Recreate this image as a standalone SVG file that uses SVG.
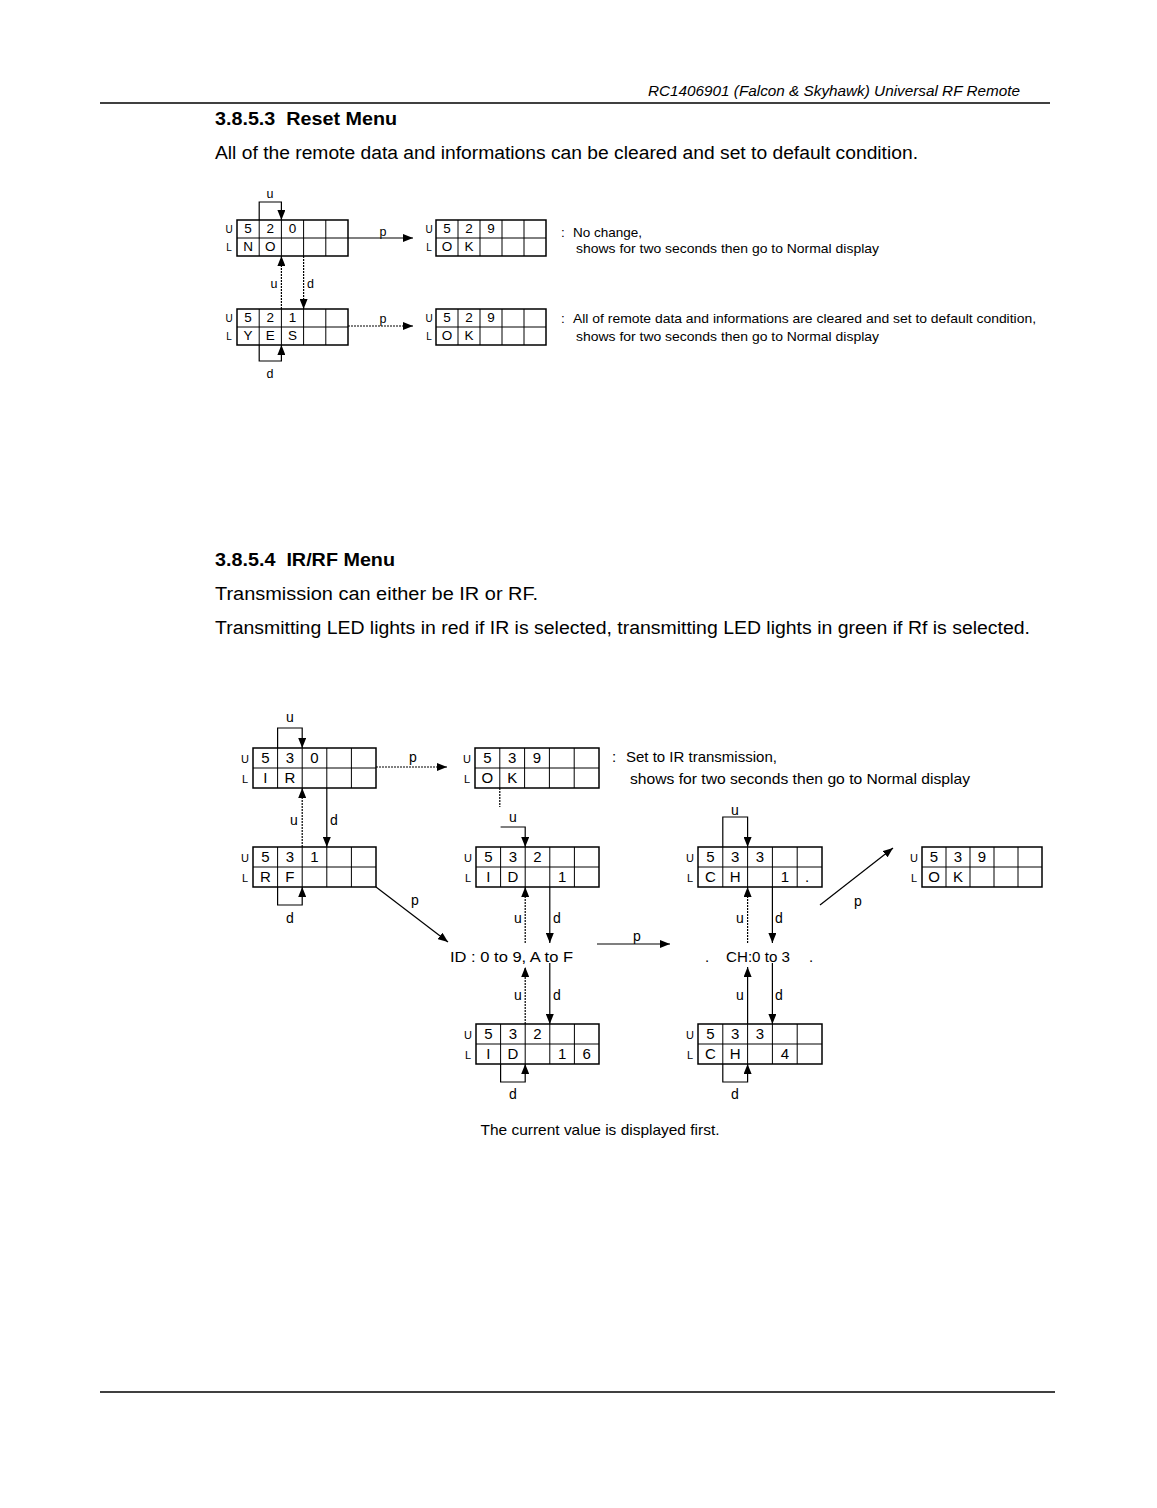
<svg xmlns="http://www.w3.org/2000/svg" width="1157" height="1508" viewBox="0 0 1157 1508">
<style>
text{font-family:"Liberation Sans",Arial,sans-serif;fill:#000}
.box{fill:none;stroke:#000;stroke-width:1.5}
.grid{fill:none;stroke:#000;stroke-width:1}
.rc{font-size:13.5px;text-anchor:middle}
.ic{font-size:15px;text-anchor:middle}
.ul{font-size:10px;text-anchor:middle}
.iul{font-size:11px;text-anchor:middle}
.conn{fill:none;stroke:#000;stroke-width:1.2}
.arr{marker-end:url(#ah)}
.dot{stroke-dasharray:2 1}
.rl{font-size:12.5px}
.il{font-size:14px}
.mid{text-anchor:middle}
.note{font-size:13.5px}
.inote{font-size:15px}
.h{font-size:19px;font-weight:bold}
.body{font-size:18px}
</style>
<defs>
<marker id="ah" viewBox="0 0 10 8" refX="10" refY="4" markerWidth="10" markerHeight="8" orient="auto" markerUnits="userSpaceOnUse"><path d="M0,0 L10,4 L0,8 z" fill="#000"/></marker>
</defs>

<g id="page-text">
<text x="1020" y="96" font-size="14" font-style="italic" text-anchor="end" textLength="372" lengthAdjust="spacingAndGlyphs">RC1406901 (Falcon &amp; Skyhawk) Universal RF Remote</text>
<line x1="100" y1="103" x2="1050" y2="103" stroke="#000" stroke-width="1.5"/>
<text class="h" x="215" y="125" textLength="182" lengthAdjust="spacingAndGlyphs" xml:space="preserve">3.8.5.3  Reset Menu</text>
<text class="body" x="215" y="159" textLength="703" lengthAdjust="spacingAndGlyphs">All of the remote data and informations can be cleared and set to default condition.</text>
<text class="h" x="215" y="566" textLength="180" lengthAdjust="spacingAndGlyphs" xml:space="preserve">3.8.5.4  IR/RF Menu</text>
<text class="body" x="215" y="600" textLength="323" lengthAdjust="spacingAndGlyphs">Transmission can either be IR or RF.</text>
<text class="body" x="215" y="634" textLength="815" lengthAdjust="spacingAndGlyphs">Transmitting LED lights in red if IR is selected, transmitting LED lights in green if Rf is selected.</text>
<line x1="100" y1="1392" x2="1055" y2="1392" stroke="#000" stroke-width="1.5"/>
</g>

<!-- Reset menu nodes -->
<g id="r520">
<rect class="box" x="237" y="220" width="111" height="36"/>
<path class="grid" d="M237,238 H348 M259.2,220 V256 M281.4,220 V256 M303.6,220 V256 M325.8,220 V256"/>
<text class="ul" x="229" y="233">U</text><text class="ul" x="229" y="251">L</text>
<text class="rc" x="248.1" y="233">5</text><text class="rc" x="270.3" y="233">2</text><text class="rc" x="292.5" y="233">0</text>
<text class="rc" x="248.1" y="251">N</text><text class="rc" x="270.3" y="251">O</text>
</g>
<g id="r529a">
<rect class="box" x="436" y="220" width="110" height="36"/>
<path class="grid" d="M436,238 H546 M458,220 V256 M480,220 V256 M502,220 V256 M524,220 V256"/>
<text class="ul" x="429" y="233">U</text><text class="ul" x="429" y="251">L</text>
<text class="rc" x="447" y="233">5</text><text class="rc" x="469" y="233">2</text><text class="rc" x="491" y="233">9</text>
<text class="rc" x="447" y="251">O</text><text class="rc" x="469" y="251">K</text>
</g>
<g id="r521">
<rect class="box" x="237" y="309" width="111" height="36"/>
<path class="grid" d="M237,327 H348 M259.2,309 V345 M281.4,309 V345 M303.6,309 V345 M325.8,309 V345"/>
<text class="ul" x="229" y="322">U</text><text class="ul" x="229" y="340">L</text>
<text class="rc" x="248.1" y="322">5</text><text class="rc" x="270.3" y="322">2</text><text class="rc" x="292.5" y="322">1</text>
<text class="rc" x="248.1" y="340">Y</text><text class="rc" x="270.3" y="340">E</text><text class="rc" x="292.5" y="340">S</text>
</g>
<g id="r529b">
<rect class="box" x="436" y="309" width="110" height="36"/>
<path class="grid" d="M436,327 H546 M458,309 V345 M480,309 V345 M502,309 V345 M524,309 V345"/>
<text class="ul" x="429" y="322">U</text><text class="ul" x="429" y="340">L</text>
<text class="rc" x="447" y="322">5</text><text class="rc" x="469" y="322">2</text><text class="rc" x="491" y="322">9</text>
<text class="rc" x="447" y="340">O</text><text class="rc" x="469" y="340">K</text>
</g>
<g id="r-notes">
<text class="note" x="561" y="237">:</text>
<text class="note" x="573" y="237">No change,</text>
<text class="note" x="576" y="253" textLength="303" lengthAdjust="spacingAndGlyphs">shows for two seconds then go to Normal display</text>
<text class="note" x="561" y="323">:</text>
<text class="note" x="573" y="323" textLength="463" lengthAdjust="spacingAndGlyphs">All of remote data and informations are cleared and set to default condition,</text>
<text class="note" x="576" y="341" textLength="303" lengthAdjust="spacingAndGlyphs">shows for two seconds then go to Normal display</text>
</g>

<!-- IR/RF nodes -->
<g id="i530">
<rect class="box" x="253" y="748" width="123" height="40"/>
<path class="grid" d="M253,768 H376 M277.6,748 V788 M302.2,748 V788 M326.8,748 V788 M351.4,748 V788"/>
<text class="iul" x="245" y="763">U</text><text class="iul" x="245" y="783">L</text>
<text class="ic" x="265.3" y="763">5</text><text class="ic" x="289.9" y="763">3</text><text class="ic" x="314.5" y="763">0</text>
<text class="ic" x="265.3" y="783">I</text><text class="ic" x="289.9" y="783">R</text>
</g>
<g id="i539a">
<rect class="box" x="475" y="748" width="124" height="40"/>
<path class="grid" d="M475,768 H599 M499.8,748 V788 M524.6,748 V788 M549.4,748 V788 M574.2,748 V788"/>
<text class="iul" x="467" y="763">U</text><text class="iul" x="467" y="783">L</text>
<text class="ic" x="487.4" y="763">5</text><text class="ic" x="512.2" y="763">3</text><text class="ic" x="537" y="763">9</text>
<text class="ic" x="487.4" y="783">O</text><text class="ic" x="512.2" y="783">K</text>
</g>
<g id="i-note">
<text class="inote" x="612" y="762">:</text>
<text class="inote" x="626" y="762">Set to IR transmission,</text>
<text class="inote" x="630" y="784" textLength="340" lengthAdjust="spacingAndGlyphs">shows for two seconds then go to Normal display</text>
</g>
<g id="i531">
<rect class="box" x="253" y="847" width="123" height="40"/>
<path class="grid" d="M253,867 H376 M277.6,847 V887 M302.2,847 V887 M326.8,847 V887 M351.4,847 V887"/>
<text class="iul" x="245" y="862">U</text><text class="iul" x="245" y="882">L</text>
<text class="ic" x="265.3" y="862">5</text><text class="ic" x="289.9" y="862">3</text><text class="ic" x="314.5" y="862">1</text>
<text class="ic" x="265.3" y="882">R</text><text class="ic" x="289.9" y="882">F</text>
</g>
<g id="i532a">
<rect class="box" x="476" y="847" width="123" height="40"/>
<path class="grid" d="M476,867 H599 M500.6,847 V887 M525.2,847 V887 M549.8,847 V887 M574.4,847 V887"/>
<text class="iul" x="468" y="862">U</text><text class="iul" x="468" y="882">L</text>
<text class="ic" x="488.3" y="862">5</text><text class="ic" x="512.9" y="862">3</text><text class="ic" x="537.5" y="862">2</text>
<text class="ic" x="488.3" y="882">I</text><text class="ic" x="512.9" y="882">D</text><text class="ic" x="562.1" y="882">1</text>
</g>
<g id="i533a">
<rect class="box" x="698" y="847" width="124" height="40"/>
<path class="grid" d="M698,867 H822 M722.8,847 V887 M747.6,847 V887 M772.4,847 V887 M797.2,847 V887"/>
<text class="iul" x="690" y="862">U</text><text class="iul" x="690" y="882">L</text>
<text class="ic" x="710.4" y="862">5</text><text class="ic" x="735.2" y="862">3</text><text class="ic" x="760" y="862">3</text>
<text class="ic" x="710.4" y="882">C</text><text class="ic" x="735.2" y="882">H</text><text class="ic" x="784.8" y="882">1</text><text class="ic" x="807" y="882">.</text>
</g>
<g id="i539b">
<rect class="box" x="922" y="847" width="120" height="40"/>
<path class="grid" d="M922,867 H1042 M946,847 V887 M970,847 V887 M994,847 V887 M1018,847 V887"/>
<text class="iul" x="914" y="862">U</text><text class="iul" x="914" y="882">L</text>
<text class="ic" x="934" y="862">5</text><text class="ic" x="958" y="862">3</text><text class="ic" x="982" y="862">9</text>
<text class="ic" x="934" y="882">O</text><text class="ic" x="958" y="882">K</text>
</g>
<g id="id-range">
<text class="ic" x="450" y="962" style="text-anchor:start" textLength="123" lengthAdjust="spacingAndGlyphs">ID : 0 to 9, A to F</text>
</g>
<g id="ch-range">
<text class="ic" x="707" y="962">.</text>
<text class="ic" x="726" y="962" style="text-anchor:start" textLength="64" lengthAdjust="spacingAndGlyphs">CH:0 to 3</text>
<text class="ic" x="811" y="962">.</text>
</g>
<g id="i532b">
<rect class="box" x="476" y="1024" width="123" height="40"/>
<path class="grid" d="M476,1044 H599 M500.6,1024 V1064 M525.2,1024 V1064 M549.8,1024 V1064 M574.4,1024 V1064"/>
<text class="iul" x="468" y="1039">U</text><text class="iul" x="468" y="1059">L</text>
<text class="ic" x="488.3" y="1039">5</text><text class="ic" x="512.9" y="1039">3</text><text class="ic" x="537.5" y="1039">2</text>
<text class="ic" x="488.3" y="1059">I</text><text class="ic" x="512.9" y="1059">D</text><text class="ic" x="562.1" y="1059">1</text><text class="ic" x="586.7" y="1059">6</text>
</g>
<g id="i533b">
<rect class="box" x="698" y="1024" width="124" height="40"/>
<path class="grid" d="M698,1044 H822 M722.8,1024 V1064 M747.6,1024 V1064 M772.4,1024 V1064 M797.2,1024 V1064"/>
<text class="iul" x="690" y="1039">U</text><text class="iul" x="690" y="1059">L</text>
<text class="ic" x="710.4" y="1039">5</text><text class="ic" x="735.2" y="1039">3</text><text class="ic" x="760" y="1039">3</text>
<text class="ic" x="710.4" y="1059">C</text><text class="ic" x="735.2" y="1059">H</text><text class="ic" x="784.8" y="1059">4</text>
</g>
<g id="caption">
<text class="inote mid" x="600" y="1135" textLength="239" lengthAdjust="spacingAndGlyphs">The current value is displayed first.</text>
</g>

<g id="connectors">
<!-- reset -->
<path class="conn arr" d="M259.2,220 V202 H281.4 V220"/>
<path class="conn arr" d="M348,238 H413"/>
<path class="conn arr dot" d="M281.4,309 V256"/>
<path class="conn arr dot" d="M303.6,256 V309"/>
<path class="conn arr dot" d="M348,326 H413"/>
<path class="conn arr" d="M259.2,345 V361 H281.4 V345"/>
<!-- IR/RF -->
<path class="conn arr" d="M277.6,748 V728 H302.2 V748"/>
<path class="conn arr dot" d="M376,767 H447"/>
<path class="conn arr dot" d="M302.2,847 V788"/>
<path class="conn arr" d="M326.8,788 V847"/>
<path class="conn arr" d="M277.6,887 V905 H302.2 V887"/>
<path class="conn arr" d="M376,887 L448,942"/>
<path class="conn dot" d="M499.8,788 V807"/>
<path class="conn arr" d="M500.6,827 H525.2 V847"/>
<path class="conn arr dot" d="M525.2,943 V887"/>
<path class="conn arr" d="M549.8,887 V943"/>
<path class="conn arr dot" d="M525.2,1024 V967"/>
<path class="conn arr" d="M549.8,963 V1024"/>
<path class="conn arr" d="M500.6,1064 V1082 H525.2 V1064"/>
<path class="conn arr" d="M597,944 H670"/>
<path class="conn arr" d="M722.8,847 V817 H747.6 V847"/>
<path class="conn arr dot" d="M747.6,943 V887"/>
<path class="conn arr" d="M772.4,887 V943"/>
<path class="conn arr" d="M747.6,1024 V967"/>
<path class="conn arr" d="M772.4,963 V1024"/>
<path class="conn arr" d="M722.8,1064 V1082 H747.6 V1064"/>
<path class="conn arr" d="M820,905 L893,848"/>
</g>

<g id="connector-labels">
<text class="rl mid" x="270" y="198">u</text>
<text class="rl mid" x="383" y="236">p</text>
<text class="rl mid" x="274" y="288">u</text>
<text class="rl" x="307" y="288">d</text>
<text class="rl mid" x="383" y="323">p</text>
<text class="rl mid" x="270" y="378">d</text>
<text class="il mid" x="290" y="722">u</text>
<text class="il mid" x="413" y="762">p</text>
<text class="il mid" x="294" y="825">u</text>
<text class="il" x="330" y="825">d</text>
<text class="il mid" x="290" y="923">d</text>
<text class="il mid" x="415" y="905">p</text>
<text class="il mid" x="513" y="822">u</text>
<text class="il mid" x="518" y="923">u</text>
<text class="il" x="553" y="923">d</text>
<text class="il mid" x="518" y="1000">u</text>
<text class="il" x="553" y="1000">d</text>
<text class="il mid" x="513" y="1099">d</text>
<text class="il mid" x="637" y="941">p</text>
<text class="il mid" x="735" y="815">u</text>
<text class="il mid" x="740" y="923">u</text>
<text class="il" x="775" y="923">d</text>
<text class="il mid" x="740" y="1000">u</text>
<text class="il" x="775" y="1000">d</text>
<text class="il mid" x="735" y="1099">d</text>
<text class="il mid" x="858" y="906">p</text>
</g>
</svg>
